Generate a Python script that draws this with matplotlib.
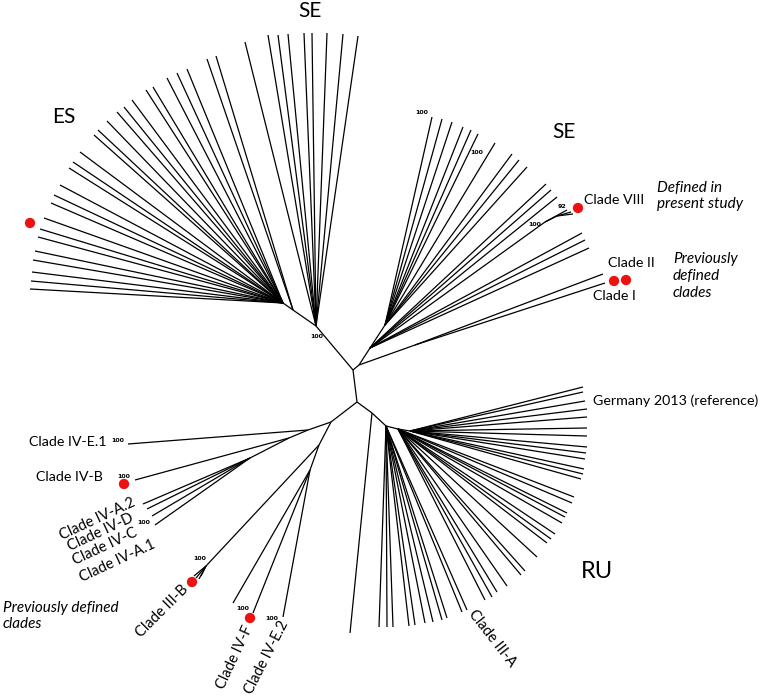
import matplotlib
matplotlib.use("Agg")
import matplotlib.pyplot as plt
from matplotlib.collections import LineCollection

# ---------------- data (image pixel coordinates of tree layout) ----------------
# internal nodes: name, x, y, parent
node_name = ["A", "B", "SEtop", "ES1", "ES2", "P", "Q", "R", "T", "V1", "V2",
             "K", "RU1", "RU2", "RU3", "C", "D", "D2", "G", "E", "F", "H3B"]
node_x = [353, 357, 316, 293, 283, 359, 415, 370, 385, 545, 557,
          372, 386, 398, 410, 331, 308, 289, 250, 319, 310, 206]
node_y = [370, 402, 326, 310, 303, 365, 345, 348, 325, 222, 216,
          413, 426, 429, 431, 422, 430, 438, 458, 445, 470, 566]
node_parent = [None, "A", "A", "SEtop", "ES1", "A", "P", "P", "R", "R", "V1",
               "B", "K", "RU1", "RU2", "B", "C", "D", "D2", "C", "E", "E"]

# tips: hub node, x, y
tip_hub = (["SEtop"] * 9 + ["ES1"] * 2 + ["ES2"] * 25 +
           ["T"] * 10 + ["R"] * 6 + ["V1"] * 1 + ["V2"] * 2 + ["Q"] * 2 +
           ["RU3"] * 13 + ["RU2"] * 15 + ["RU1"] * 11 + ["K"] * 1 +
           ["D"] * 1 + ["D2"] * 1 + ["G"] * 4 + ["H3B"] * 4 + ["F"] * 3)
tip_x = ([245, 268, 278, 288, 304, 312, 327, 343, 358] +
         [216, 207] +
         [187, 177, 167, 153, 146, 132, 124, 117, 107, 98, 94, 80, 73, 69, 60,
          54, 51, 44, 40, 38, 35, 33, 32, 31, 30] +
         [432, 442, 452, 463, 471, 478, 495, 512, 519, 527] +
         [546, 551, 557, 582, 585, 589] + [567] + [571, 573] + [603, 605] +
         [583, 583, 585, 587, 587, 587, 587, 587, 586, 585, 584, 583, 581] +
         [574, 572, 567, 565, 562, 555, 551, 547, 537, 525, 521, 507, 497, 492, 485] +
         [467, 462, 447, 442, 433, 425, 415, 409, 393, 387, 379] + [350] +
         [128] + [135] + [143, 147, 152, 155] + [194, 196, 199, 201] +
         [233, 253, 283])
tip_y = ([42, 35, 35, 34, 33, 33, 33, 34, 36] +
         [56, 59] +
         [69, 73, 78, 87, 90, 100, 107, 112, 121, 130, 135, 152, 162, 168, 185,
          195, 203, 218, 229, 237, 251, 260, 272, 281, 289] +
         [117, 119, 122, 127, 130, 134, 143, 154, 160, 167] +
         [184, 190, 197, 233, 240, 248] + [210] + [212, 214] + [274, 283] +
         [387, 392, 401, 409, 417, 428, 436, 447, 453, 459, 469, 474, 479] +
         [497, 503, 513, 517, 523, 534, 539, 543, 557, 571, 575, 586, 592, 597, 600] +
         [610, 612, 618, 620, 622, 623, 625, 626, 627, 627, 627] + [633] +
         [444] + [480] + [504, 509, 516, 525] + [576, 578, 579, 576] +
         [603, 613, 617])

# labels
big_labels = ["SE", "ES", "SE", "RU"]
big_x = [310, 64, 564, 597]
big_y = [11, 117, 132, 571]
big_size = [15, 15, 15, 17]

clade_labels = ["Clade VIII", "Clade II", "Clade I", "Germany 2013 (reference)",
                "Clade IV-E.1", "Clade IV-B"]
clade_x = [584, 608, 593, 593, 107, 103]
clade_y = [200, 263, 296, 401, 442, 477]
clade_ha = ["left", "left", "left", "left", "right", "right"]

rot_labels = ["Clade IV-A.2", "Clade IV-D", "Clade IV-C", "Clade IV-A.1",
              "Clade III-B", "Clade IV-F", "Clade IV-E.2", "Clade III-A"]
rot_x = [97, 101, 105, 117, 162, 235, 267, 492]
rot_y = [519, 532, 547, 561, 611, 657, 657, 638]
rot_angle = [25, 25, 25, 25, 45, 65, 63, -52]

note_labels = ["Defined in\npresent study", "Previously\ndefined\nclades",
               "Previously defined\nclades"]
note_x = [657, 673, 3]
note_y = [196, 276, 616]

support_text = ["100", "100", "100", "100", "92", "100", "100", "100", "100", "100", "100"]
support_x = [317, 422, 477, 535, 562, 118, 124, 144, 200, 243, 272]
support_y = [336, 113, 152, 224, 207, 441, 476, 522, 559, 609, 618]

dot_x = [30, 578, 614, 626, 124, 192, 250]
dot_y = [223, 208, 281, 280, 484, 582, 618]

# ---------------- drawing ----------------
W, H = 767, 697
fig = plt.figure(figsize=(W / 100, H / 100), dpi=100)
ax = fig.add_axes([0, 0, 1, 1])
ax.set_xlim(0, W)
ax.set_ylim(H, 0)
ax.axis("off")

pos = {n: (x, y) for n, x, y in zip(node_name, node_x, node_y)}
segs = []
for n, p in zip(node_name, node_parent):
    if p is not None:
        segs.append([pos[p], pos[n]])
for h, x, y in zip(tip_hub, tip_x, tip_y):
    segs.append([pos[h], (x, y)])
ax.add_collection(LineCollection(segs, colors="black", linewidths=0.9))

ax.scatter(dot_x, dot_y, s=55, color="#ee1111", zorder=3, edgecolors="none")

FAM = ["Lato", "DejaVu Sans"]
for t, x, y, s in zip(big_labels, big_x, big_y, big_size):
    ax.text(x, y, t, fontsize=s, ha="center", va="center", family=FAM)
for t, x, y, ha in zip(clade_labels, clade_x, clade_y, clade_ha):
    ax.text(x, y, t, fontsize=10.3, ha=ha, va="center", family=FAM)
for t, x, y, r in zip(rot_labels, rot_x, rot_y, rot_angle):
    ax.text(x, y, t, fontsize=10.5, ha="center", va="center", rotation=r,
            rotation_mode="anchor", family=FAM)
for t, x, y in zip(note_labels, note_x, note_y):
    ax.text(x, y, t, fontsize=11, ha="left", va="center", style="italic",
            family=FAM, linespacing=1.25)
for t, x, y in zip(support_text, support_x, support_y):
    ax.text(x, y, t, fontsize=4.5, ha="center", va="center", weight="bold",
            family=["DejaVu Sans"])

fig.savefig("out.png", dpi=100)
